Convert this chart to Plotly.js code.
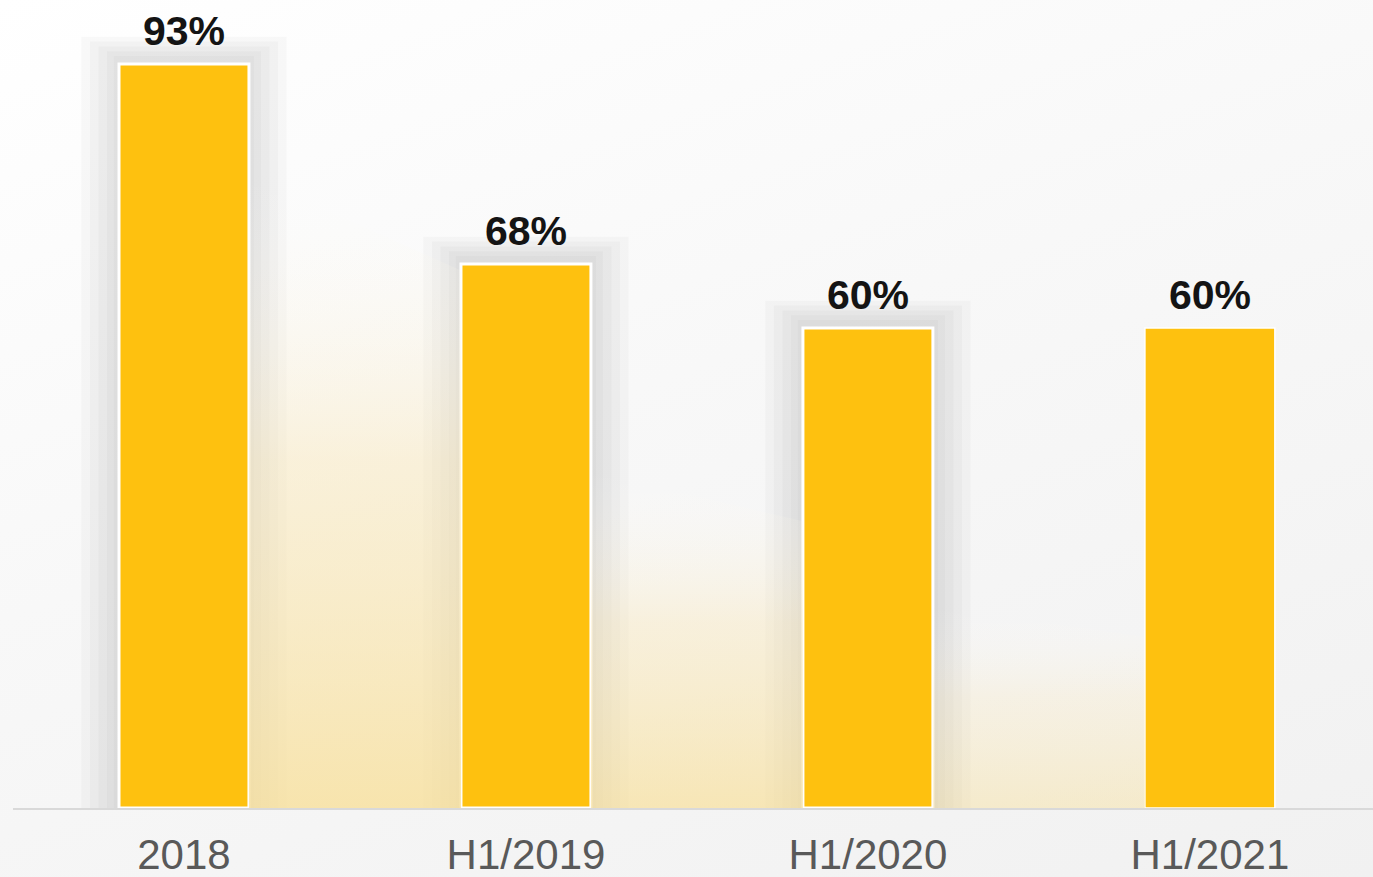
<!DOCTYPE html>
<html>
<head>
<meta charset="utf-8">
<script src="https://cdn.plot.ly/plotly-3.0.1.min.js"></script>
<style>
html,body{margin:0;padding:0;}
body{width:1373px;height:877px;overflow:hidden;background:linear-gradient(160deg,#ffffff 0%,#f8f8f8 45%,#f1f1f1 100%);}
#chart{width:1373px;height:877px;}
</style>
</head>
<body>
<div id="chart"></div>
<script>
const categories = ["2018", "H1/2019", "H1/2020", "H1/2021"];
const values = [93, 68, 60, 60];
const labels = ["93%", "68%", "60%", "60%"];
const hasShadow = [true, true, true, false];

const positions = categories.map(function (c, i) { return i; });
const barColor = "#FEC10F";
const barWidth = 0.38;
const traces = [];

// decorative warm glow between a shaded bar and the next one
const glowReach = [0.85, 0.62, 0.42];
const glowAlpha = [0.8, 0.7, 0.45];
positions.forEach(function (p, i) {
  if (!hasShadow[i] || i >= positions.length - 1) return;
  const h = values[i] * glowReach[i];
  const x0 = p + barWidth / 2, x1 = positions[i + 1] - barWidth / 2;
  const a = glowAlpha[i];
  traces.push({
    type: "scatter", mode: "lines",
    x: [x0, x0, x1, x1, x0],
    y: [0, h, h * 0.85, 0, 0],
    fill: "toself",
    line: { width: 0, color: "rgba(0,0,0,0)" },
    fillgradient: {
      type: "vertical", start: 0, stop: h,
      colorscale: [[0, "rgba(248,224,155," + a + ")"], [0.55, "rgba(250,232,185," + (a * 0.6) + ")"], [1, "rgba(255,255,255,0)"]]
    },
    hoverinfo: "skip", showlegend: false
  });
});

// soft halo layers (decorative shadow behind the first three bars)
const haloWidths = [0.6, 0.55, 0.5, 0.45, 0.41];
haloWidths.forEach(function (w, k) {
  traces.push({
    type: "bar",
    x: positions,
    y: values.map(function (v, i) { return hasShadow[i] ? v + 3.4 - k * 0.6 : 0; }),
    width: w,
    marker: { color: "rgba(110,110,110,0.038)", line: { width: 0 } },
    hoverinfo: "skip",
    showlegend: false
  });
});

traces.push({
  type: "bar",
  x: positions,
  y: values,
  width: barWidth,
  marker: { color: barColor, line: { color: "#ffffff", width: [3, 3, 3, 1.5] } },
  hoverinfo: "skip",
  showlegend: false
});

const annotations = positions.map(function (p, i) {
  return {
    x: p, y: values[i], text: "<b>" + labels[i] + "</b>",
    xref: "x", yref: "y", yanchor: "bottom", showarrow: false, yshift: 8,
    font: { family: "Liberation Sans, Arial, sans-serif", size: 41, color: "#141414" }
  };
});

const layout = {
  width: 1373, height: 877,
  margin: { l: 13, r: 0, t: 8, b: 69 },
  paper_bgcolor: "rgba(0,0,0,0)",
  plot_bgcolor: "rgba(0,0,0,0)",
  barmode: "overlay",
  showlegend: false,
  xaxis: {
    type: "linear",
    range: [-0.5, 3.477],
    tickvals: positions,
    ticktext: categories,
    showgrid: false, zeroline: false,
    showline: true, linecolor: "#d9d9d9", linewidth: 2,
    ticks: "",
    ticklabelstandoff: 9,
    tickfont: { family: "Liberation Sans, Arial, sans-serif", size: 42, color: "#595959" },
    fixedrange: true
  },
  yaxis: { visible: false, range: [0, 100], fixedrange: true },
  annotations: annotations
};

Plotly.newPlot("chart", traces, layout, { displayModeBar: false, staticPlot: true });
</script>
</body>
</html>
